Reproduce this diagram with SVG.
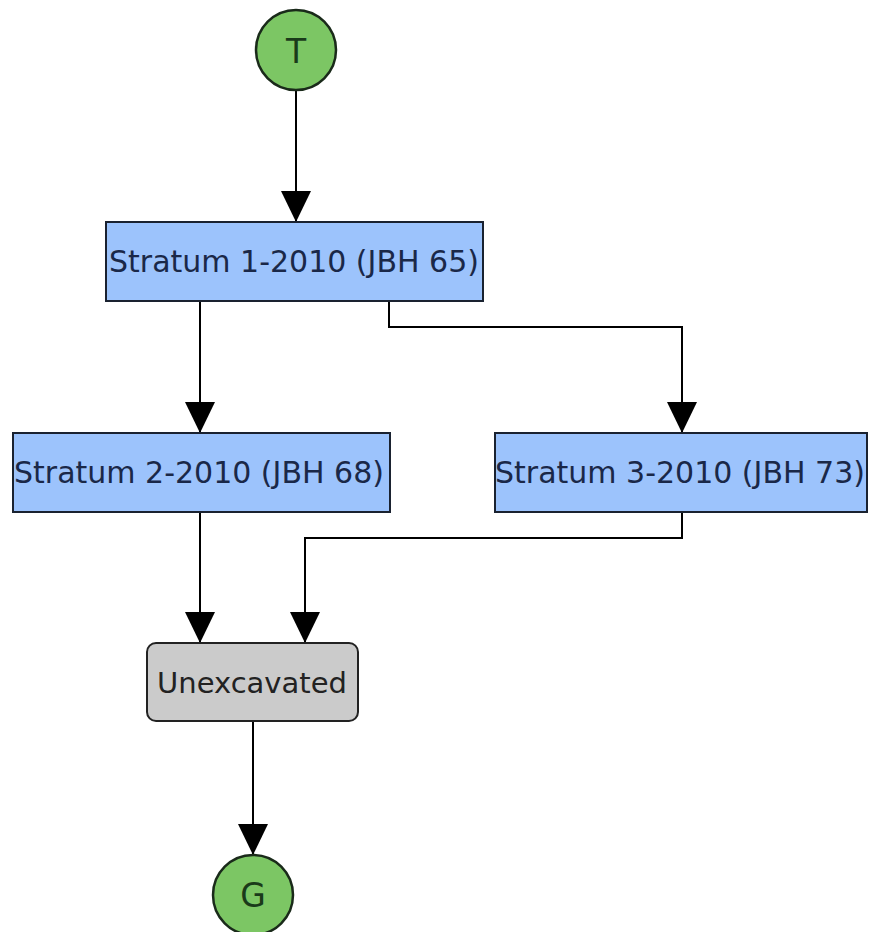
<svg xmlns="http://www.w3.org/2000/svg" width="869" height="932" viewBox="0 0 869 932">
<defs>
<marker id="arr" markerUnits="userSpaceOnUse" markerWidth="32" markerHeight="32" refX="31" refY="15" orient="auto" viewBox="0 0 32 30">
<path d="M0,0 L31,15 L0,30 Z" fill="#000"/>
</marker>
</defs>
<style>
.edge{fill:none;stroke:#000;stroke-width:2;marker-end:url(#arr)}
.box{fill:#9cc3fc;stroke:#1a2230;stroke-width:2}
.term{fill:#7cc664;stroke:#1a2a1a;stroke-width:2.5}
.gray{fill:#cbcbcb;stroke:#222;stroke-width:2}
text{font-family:"DejaVu Sans","Liberation Sans",sans-serif;text-anchor:middle}
.bt{font-size:30px;fill:#1a2848}
.tt{font-size:33px;fill:#1a3a1a}
</style>
<rect width="869" height="932" fill="#fff"/>
<g id="connectors">
<path class="edge" d="M296,90 V222"/>
<path class="edge" d="M200,301 V433"/>
<path class="edge" d="M389,301 V327 H682 V433"/>
<path class="edge" d="M200,512 V643"/>
<path class="edge" d="M682,512 V538 H305 V643"/>
<path class="edge" d="M253,721 V855"/>
</g>
<g id="T">
<circle class="term" cx="296" cy="50" r="40"/>
<text class="tt" x="296" y="63">T</text>
</g>
<g id="stratum1">
<rect class="box" x="106" y="222" width="377" height="79"/>
<text class="bt" x="294" y="272">Stratum 1-2010 (JBH 65)</text>
</g>
<g id="stratum2">
<rect class="box" x="13" y="433" width="377" height="79"/>
<text class="bt" x="199" y="483">Stratum 2-2010 (JBH 68)</text>
</g>
<g id="stratum3">
<rect class="box" x="495" y="433" width="372" height="79"/>
<text class="bt" x="680" y="483">Stratum 3-2010 (JBH 73)</text>
</g>
<g id="unexcavated">
<rect class="gray" x="147" y="643" width="211" height="78" rx="9"/>
<text class="bt" x="252" y="693" style="font-size:29px;fill:#222">Unexcavated</text>
</g>
<g id="G">
<circle class="term" cx="253" cy="895" r="40"/>
<text class="tt" x="253" y="907">G</text>
</g>
</svg>
